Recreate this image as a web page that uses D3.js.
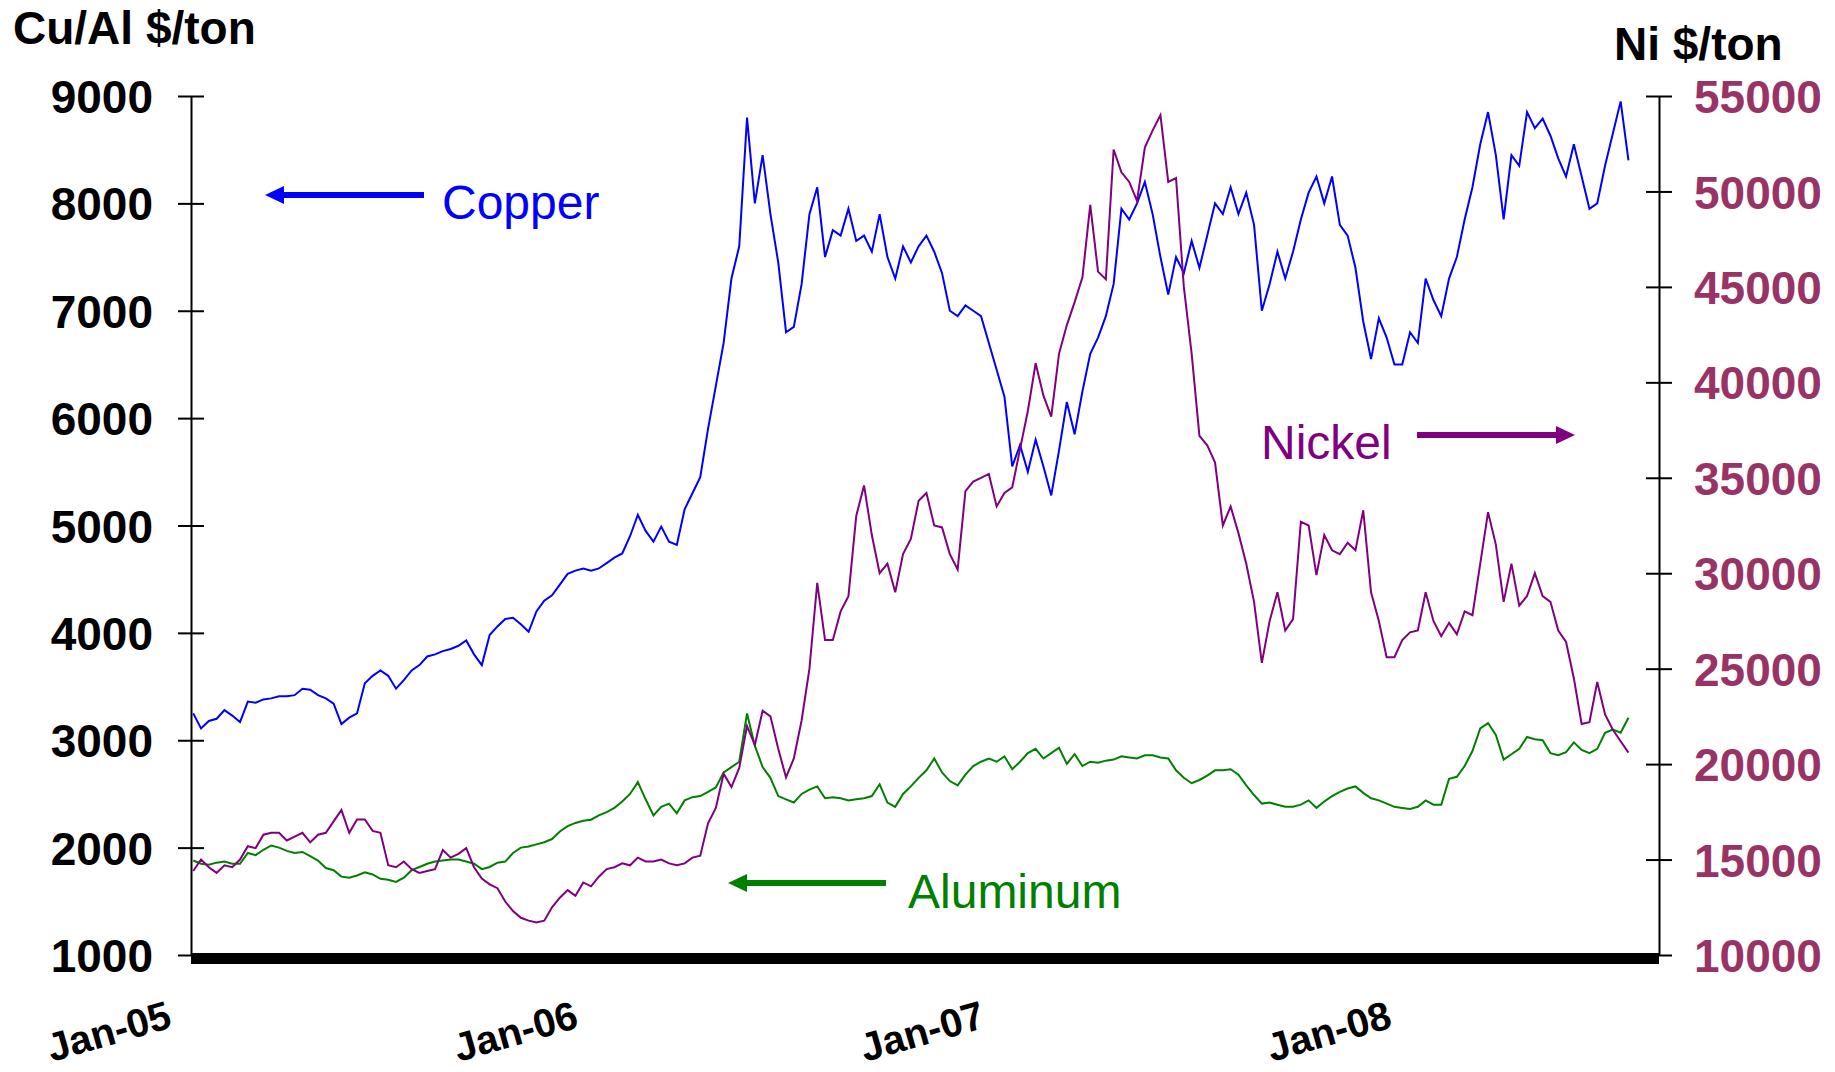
<!DOCTYPE html>
<html><head><meta charset="utf-8">
<script src="https://cdn.jsdelivr.net/npm/d3@7"></script>
<style>body{margin:0;background:#fff}svg{display:block}</style>
</head><body>
<svg id="chart" width="1835" height="1072"></svg>
<script>
// weekly observations starting Monday 3 Jan 2005
const startDate = new Date(2005, 0, 3);
const stepDays = 7;

const copper = [3250,3110,3180,3200,3280,3230,3170,3360,3350,3380,
3390,3410,3410,3420,3480,3470,3420,3390,3340,3150,
3210,3250,3530,3600,3650,3600,3480,3560,3650,3700,
3780,3800,3830,3850,3880,3930,3800,3700,3980,4060,
4130,4140,4080,4010,4200,4300,4350,4450,4550,4580,
4600,4580,4600,4650,4700,4740,4900,5100,4950,4850,
4990,4850,4820,5150,5300,5450,5900,6300,6700,7300,
7600,8800,8000,8450,7900,7450,6800,6850,7250,7900,
8150,7500,7750,7700,7950,7650,7700,7550,7900,7500,
7300,7600,7450,7600,7700,7550,7350,7000,6950,7050,
7000,6950,6700,6450,6200,5550,5750,5500,5800,5550,
5280,5700,6150,5850,6250,6600,6750,6950,7250,7950,
7850,8000,8200,7900,7500,7150,7500,7350,7650,7400,
7700,8000,7900,8150,7900,8100,7800,7000,7250,7550,
7300,7550,7850,8100,8250,8000,8250,7800,7700,7400,
6900,6550,6930,6750,6500,6500,6800,6700,7300,7100,
6950,7300,7500,7850,8150,8550,8850,8450,7850,8450,
8350,8850,8700,8790,8630,8420,8250,8550,8250,7950,
8000,8350,8650,8950,8400];

const aluminum = [1880,1850,1840,1860,1870,1850,1850,1950,1930,1980,
2020,2000,1970,1950,1960,1920,1880,1810,1790,1730,
1720,1740,1770,1750,1710,1700,1680,1720,1790,1820,
1850,1870,1880,1890,1890,1870,1850,1800,1820,1860,
1870,1950,2000,2010,2030,2050,2080,2150,2200,2230,
2250,2260,2300,2330,2370,2430,2500,2610,2450,2300,
2380,2410,2320,2440,2470,2480,2520,2560,2700,2750,
2800,3250,2950,2750,2650,2480,2450,2420,2500,2540,
2570,2460,2470,2460,2440,2450,2460,2480,2590,2420,
2380,2500,2570,2650,2720,2830,2700,2620,2580,2680,
2760,2800,2830,2800,2850,2730,2800,2880,2920,2830,
2880,2930,2780,2870,2760,2800,2790,2810,2820,2850,
2840,2830,2860,2860,2840,2830,2720,2650,2600,2630,
2670,2720,2720,2730,2680,2580,2490,2410,2420,2400,
2380,2380,2400,2440,2370,2430,2480,2520,2550,2570,
2510,2460,2440,2410,2380,2370,2360,2380,2440,2400,
2400,2640,2660,2760,2900,3110,3160,3050,2820,2870,
2920,3030,3010,3000,2880,2860,2890,2980,2910,2880,
2920,3070,3100,3070,3210];

const nickel = [14400,15000,14600,14300,14700,14600,15000,15700,15600,16300,
16400,16400,16000,16200,16400,15900,16300,16400,17000,17600,
16400,17100,17100,16500,16400,14700,14600,14900,14500,14300,
14400,14500,15500,15100,15300,15600,14600,14000,13700,13500,
12800,12300,11950,11800,11700,11800,12500,13000,13400,13100,
13800,13600,14100,14500,14600,14800,14700,15100,14900,14900,
15000,14800,14700,14800,15100,15200,16900,17700,19500,18800,
19800,22000,21000,22800,22500,20800,19300,20300,22300,25000,
29500,26500,26500,28000,28800,33000,34600,32000,30000,30500,
29000,31000,31800,33800,34200,32500,32400,31000,30200,34300,
34800,35000,35200,33500,34200,34500,36500,38500,41000,39300,
38200,41500,43000,44200,45500,49300,45800,45400,52200,51000,
50500,49500,52300,53200,54000,50500,50700,45000,41500,37200,
36700,35800,32500,33500,32100,30500,28500,25300,27500,29000,
27000,27600,32700,32500,29900,32000,31200,31000,31600,31200,
33300,29000,27500,25600,25600,26500,26900,27000,29000,27500,
26700,27400,26800,28000,27800,30500,33200,31500,28500,30500,
28300,28800,30000,28800,28500,27000,26400,24500,22100,22200,
24300,22600,21800,21200,20600];

const leftTicks = [1000,2000,3000,4000,5000,6000,7000,8000,9000];
const rightTicks = [10000,15000,20000,25000,30000,35000,40000,45000,50000,55000];
const yearTicks = [new Date(2005,0,1), new Date(2006,0,1), new Date(2007,0,1), new Date(2008,0,1)];
const xDomain = [new Date(2005,0,1), new Date(2008,7,10,10)];

const dates = copper.map((_, i) => d3.timeDay.offset(startDate, stepDays * i));

const FONT = '"Liberation Sans", Arial, Helvetica, sans-serif';
const svg = d3.select('#chart');

const x = d3.scaleTime().domain(xDomain).range([191, 1659]);
const yL = d3.scaleLinear().domain([1000, 9000]).range([955, 96]);
const yR = d3.scaleLinear().domain([10000, 55000]).range([955, 96]);

// series lines
function drawLine(values, yScale, color) {
  const line = d3.line().x((d, i) => x(dates[i])).y(d => yScale(d));
  svg.append('path').datum(values)
    .attr('d', line).attr('fill', 'none')
    .attr('stroke', color).attr('stroke-width', 2)
    .attr('stroke-linejoin', 'miter');
}
drawLine(aluminum, yL, '#008000');
drawLine(copper, yL, '#0000FF');
drawLine(nickel, yR, '#800080');

// left axis
const gL = svg.append('g').attr('transform', 'translate(191,0)')
  .call(d3.axisLeft(yL).tickValues(leftTicks).tickSize(13).tickSizeOuter(0).tickPadding(25).tickFormat(d3.format('d')));
gL.attr('font-family', FONT).attr('font-size', 46);
gL.select('.domain').attr('stroke', '#000').attr('stroke-width', 2);
gL.selectAll('.tick line').attr('x1', 13).attr('stroke', '#000').attr('stroke-width', 2);
gL.selectAll('.tick text').attr('font-weight', 'bold').attr('fill', '#000').attr('dy', '0.36em');

// right axis
const gR = svg.append('g').attr('transform', 'translate(1659,0)')
  .call(d3.axisRight(yR).tickValues(rightTicks).tickSize(13).tickSizeOuter(0).tickPadding(22).tickFormat(d3.format('d')));
gR.attr('font-family', FONT).attr('font-size', 46);
gR.select('.domain').attr('stroke', '#000').attr('stroke-width', 2);
gR.selectAll('.tick line').attr('x1', -13).attr('stroke', '#000').attr('stroke-width', 2);
gR.selectAll('.tick text').attr('font-weight', 'bold').attr('fill', '#993366').attr('dy', '0.36em');

// bottom axis: dense tick band
svg.append('rect').attr('x', x.range()[0]).attr('y', 953)
  .attr('width', x.range()[1] - x.range()[0]).attr('height', 11).attr('fill', '#000');

const gX = svg.append('g').attr('transform', 'translate(0,954)')
  .call(d3.axisBottom(x).tickValues(yearTicks).tickSize(0).tickFormat(d3.timeFormat('%b-%y')));
gX.select('.domain').remove();
gX.attr('font-family', FONT).attr('font-size', 40);
gX.selectAll('.tick text')
  .attr('font-weight', 'bold').attr('fill', '#000')
  .attr('y', 0).attr('dy', 0)
  .attr('text-anchor', 'end')
  .attr('transform', 'translate(-18,73) rotate(-16)');

// axis titles
svg.append('text').attr('x', 13).attr('y', 44)
  .attr('font-family', FONT).attr('font-size', 46).attr('font-weight', 'bold')
  .attr('fill', '#000').text('Cu/Al $/ton');
svg.append('text').attr('x', 1614).attr('y', 60)
  .attr('font-family', FONT).attr('font-size', 46).attr('font-weight', 'bold')
  .attr('fill', '#000').text('Ni $/ton');

// annotations with arrows
function arrow(x1, x2, yv, color, dir) {
  // dir = -1 arrow points left (tip at x1), +1 points right (tip at x2)
  const head = 19, half = 9;
  if (dir < 0) {
    svg.append('line').attr('x1', x1 + head - 1).attr('x2', x2).attr('y1', yv).attr('y2', yv)
      .attr('stroke', color).attr('stroke-width', 6);
    svg.append('path').attr('d', `M${x1},${yv} L${x1 + head},${yv - half} L${x1 + head},${yv + half} Z`).attr('fill', color);
  } else {
    svg.append('line').attr('x1', x1).attr('x2', x2 - head + 1).attr('y1', yv).attr('y2', yv)
      .attr('stroke', color).attr('stroke-width', 6);
    svg.append('path').attr('d', `M${x2},${yv} L${x2 - head},${yv - half} L${x2 - head},${yv + half} Z`).attr('fill', color);
  }
}
function label(tx, ty, color, txt) {
  svg.append('text').attr('x', tx).attr('y', ty)
    .attr('font-family', FONT).attr('font-size', 48).attr('fill', color).text(txt);
}
arrow(265, 424, 195, '#0000FF', -1);
label(442, 219, '#0000FF', 'Copper');
arrow(1417, 1575, 435, '#800080', 1);
label(1261, 459, '#800080', 'Nickel');
arrow(728, 886, 883, '#008000', -1);
label(908, 908, '#008000', 'Aluminum');
</script>
</body></html>
